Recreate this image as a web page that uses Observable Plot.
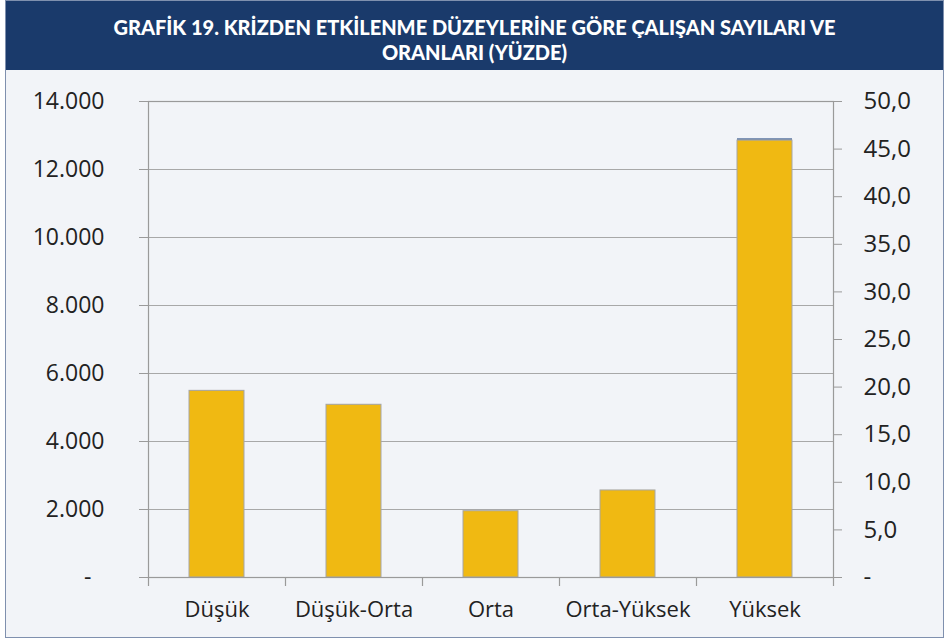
<!DOCTYPE html>
<html><head><meta charset="utf-8">
<script src="https://cdn.jsdelivr.net/npm/d3@7"></script>
<script src="https://cdn.jsdelivr.net/npm/@observablehq/plot@0.6"></script>
<style>
html,body{margin:0;padding:0;background:#ffffff;}
#frame{position:absolute;left:5px;top:0;width:937px;height:636px;border:1.5px solid #7f90ae;background:#f2f4f8;overflow:hidden;}
#title{height:69px;background:#1a3a6b;color:#fff;font-family:Lato,"Open Sans",sans-serif;font-weight:900;font-size:20px;line-height:25px;text-align:center;padding-top:14px;box-sizing:border-box;}
#chart{position:absolute;left:0;top:69px;}
</style></head>
<body>
<div id="frame">
  <div id="title">GRAFİK 19. KRİZDEN ETKİLENME DÜZEYLERİNE GÖRE ÇALIŞAN SAYILARI VE<br>ORANLARI (YÜZDE)</div>
  <div id="chart"></div>
</div>
<script>
const categories = ["Düşük", "Düşük-Orta", "Orta", "Orta-Yüksek", "Yüksek"];
const counts = [5490, 5080, 1950, 2560, 12850];
const percents = [19.6, 18.1, 6.9, 9.1, 46.1];
const leftTicks = [2000, 4000, 6000, 8000, 10000, 12000, 14000];
const rightTicks = [0, 5, 10, 15, 20, 25, 30, 35, 40, 45, 50];

const leftMax = 14000, rightMax = 50;
const factor = leftMax / rightMax;
const data = categories.map((c, i) => ({cat: c, count: counts[i], pct: percents[i], pctScaled: percents[i] * factor}));

const W = 937, H = 567, mL = 142, mR = 110, mT = 31, mB = 60;
const band = (W - mL - mR) / categories.length;
const font = "'Open Sans', sans-serif";
const fmt = d3.format(",.0f");
const trFmt = v => fmt(v).replace(/,/g, ".");
const axisColor = "#9a9a9a";

const plot = Plot.plot({
  width: W, height: H,
  marginLeft: mL, marginRight: mR, marginTop: mT, marginBottom: mB,
  style: {background: "transparent", fontFamily: font, fontSize: "22px", color: "#222"},
  x: {domain: categories, paddingInner: 0.6, paddingOuter: 0.3, label: null},
  y: {domain: [0, leftMax], label: null},
  marks: [
    Plot.gridY(leftTicks, {stroke: "#a8a8a8", strokeOpacity: 1, strokeWidth: 1}),
    Plot.barY(data, {x: "cat", y: "pctScaled", fill: "#6f87ae"}),
    Plot.barY(data, {x: "cat", y: "count", fill: "#f0b912", stroke: "#a6a6a6", strokeWidth: 1}),
    Plot.frame({stroke: axisColor, strokeWidth: 1.2}),
    Plot.axisY(leftTicks, {anchor: "left", tickSize: 9, tickPadding: 35, tickFormat: trFmt, stroke: axisColor, fontSize: 23, fill: "#222"}),
    Plot.axisY([0], {anchor: "left", tickSize: 9, tickPadding: 48, tickFormat: () => "-", stroke: axisColor, fontSize: 23, fill: "#222"}),
    Plot.axisY(rightTicks.map(v => v * factor), {anchor: "right", tickSize: 8, tickPadding: 22, textAnchor: "start",
      tickFormat: v => v === 0 ? "-" : (v / factor).toFixed(1).replace(".", ","), stroke: axisColor, fontSize: 24, fill: "#222"}),
    Plot.axisX({tickSize: 0, tickPadding: 24, fontSize: 22, fill: "#222"}),
    Plot.ruleX(categories, {x: d => d, y1: 0, y2: 0, insetBottom: -9, dx: -band / 2, stroke: axisColor, strokeWidth: 1.2}),
    Plot.ruleX(categories.slice(-1), {x: d => d, y1: 0, y2: 0, insetBottom: -9, dx: band / 2, stroke: axisColor, strokeWidth: 1.2})
  ]
});
document.getElementById("chart").appendChild(plot);
</script>
</body></html>
